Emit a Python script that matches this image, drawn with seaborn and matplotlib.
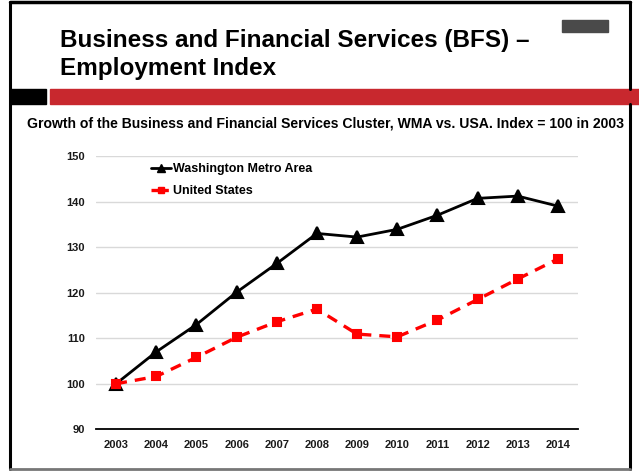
import pandas as pd
import seaborn as sns
import matplotlib.pyplot as plt
from matplotlib.lines import Line2D
from matplotlib.patches import Rectangle

# Data
years = ['2003', '2004', '2005', '2006', '2007', '2008', '2009', '2010', '2011', '2012', '2013', '2014']
wma = [100, 107.0, 113.0, 120.1, 126.4, 133.0, 132.2, 133.9, 137.0, 140.7, 141.2, 139.0]
usa = [100, 101.6, 105.8, 110.2, 113.6, 116.4, 110.9, 110.3, 114.0, 118.5, 123.0, 127.4]
series_names = ['Washington Metro Area', 'United States']

df = pd.DataFrame({
    'Year': years * 2,
    'Index': wma + usa,
    'Series': [series_names[0]] * len(years) + [series_names[1]] * len(years),
})

sns.set_theme(style='white')
plt.rcParams['font.family'] = ['Liberation Sans', 'DejaVu Sans']
plt.rcParams['text.color'] = 'black'

W, H = 639, 471
fig = plt.figure(figsize=(W / 100, H / 100), dpi=100)
ax = fig.add_axes([96 / W, 1 - 429.3 / H, 482 / W, (429.3 - 156) / H])

sns.pointplot(data=df, x='Year', y='Index', hue='Series', order=years,
              hue_order=series_names, palette=['black', '#FF0000'],
              markers=['^', 's'], linestyles=['-', (0, (3.3, 2.4))],
              markersize=8, linewidth=2.0, ax=ax, legend=False)

# marker tweaks
for ln in ax.lines:
    if ln.get_marker() == 's':
        ln.set_markersize(5.5)
        ln.set_linewidth(2.4)

ax.set_ylim(90, 150)
ax.set_xlim(-0.5, 11.5)
ax.set_yticks(range(90, 151, 10))
ax.yaxis.grid(True, color='#D9D9D9', linewidth=1.0)
ax.set_axisbelow(True)
for s in ['left', 'right', 'top']:
    ax.spines[s].set_visible(False)
ax.spines['bottom'].set_color('black')
ax.spines['bottom'].set_linewidth(1.3)
ax.set_xlabel('')
ax.set_ylabel('')
ax.tick_params(axis='both', length=0, labelsize=8, pad=8, labelcolor='#1a1a1a')
for lab in ax.get_xticklabels() + ax.get_yticklabels():
    lab.set_fontweight('bold')

handles = [
    Line2D([], [], color='black', marker='^', markersize=6, linewidth=2.0),
    Line2D([], [], color='#FF0000', marker='s', markersize=5, linewidth=2.4, linestyle=(0, (2, 1.2))),
]
leg = ax.legend(handles, series_names, loc='upper left', bbox_to_anchor=(0.09, 1.015),
                frameon=False, handlelength=1.6, handletextpad=0.15, labelspacing=0.8,
                prop={'weight': 'bold', 'size': 9})

# Slide decoration
fig.add_artist(Line2D([10 / W, 10 / W], [1 - 2 / H, 1 - 469 / H], color='black', linewidth=2.2))
fig.add_artist(Line2D([10 / W, 630 / W], [1 - 2 / H, 1 - 2 / H], color='black', linewidth=2.5))
fig.add_artist(Line2D([630 / W, 630 / W], [1 - 2 / H, 1 - 89 / H], color='black', linewidth=2.2))
fig.add_artist(Line2D([630 / W, 630 / W], [1 - 104 / H, 1 - 469 / H], color='black', linewidth=2.2))
fig.add_artist(Line2D([10 / W, 630 / W], [1 - 469 / H, 1 - 469 / H], color='#777777', linewidth=2.0))
fig.add_artist(Rectangle((10 / W, 1 - 104 / H), 36 / W, 15 / H, color='black', transform=fig.transFigure))
fig.add_artist(Rectangle((50 / W, 1 - 104 / H), 589 / W, 15 / H, color='#C8282E', transform=fig.transFigure))
fig.add_artist(Rectangle((562 / W, 1 - 32 / H), 46 / W, 12 / H, color='#4A4A4A', transform=fig.transFigure))

fig.text(60 / W, 1 - 40 / H, 'Business and Financial Services (BFS) –', fontsize=17.5,
         fontweight='bold', va='center', ha='left', color='black')
fig.text(60 / W, 1 - 69 / H, 'Employment Index', fontsize=17.5,
         fontweight='bold', va='center', ha='left', color='black')
fig.text(27 / W, 1 - 123 / H,
         'Growth of the Business and Financial Services Cluster, WMA vs. USA. Index = 100 in 2003',
         fontsize=10.1, fontweight='bold', va='center', ha='left', color='black')

fig.savefig('out.png', dpi=100, facecolor='white')
